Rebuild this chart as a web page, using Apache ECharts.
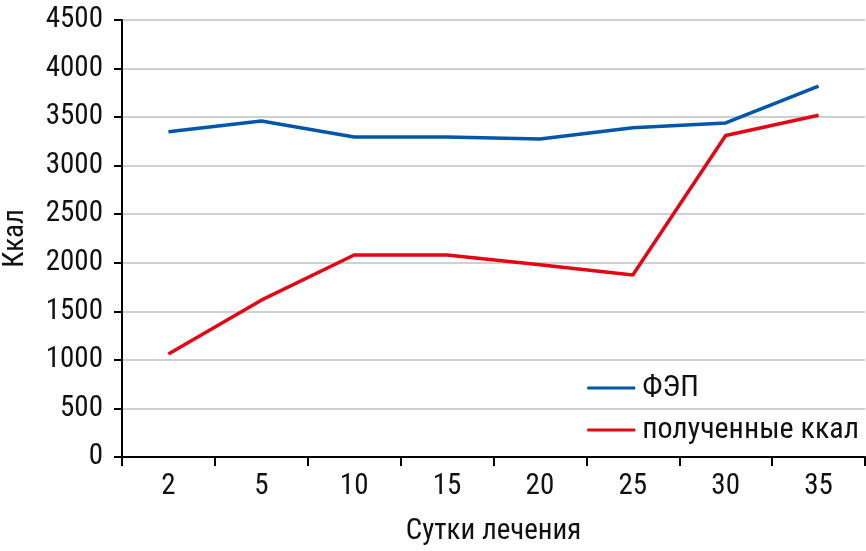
<!DOCTYPE html>
<html><head><meta charset="utf-8">
<script src="https://cdn.jsdelivr.net/npm/echarts@6/dist/echarts.min.js"></script>
<style>html,body{margin:0;padding:0;background:#fff}#c{width:866px;height:551px}</style>
</head><body><div id="c"></div>
<script>
const categories = ['2','5','10','15','20','25','30','35'];
const fepValues = [3350, 3460, 3295, 3295, 3275, 3390, 3440, 3820];
const receivedValues = [1060, 1615, 2080, 2080, 1980, 1875, 3310, 3520];
const seriesNames = ['ФЭП', 'полученные ккал'];
const FONT = '"Roboto Condensed","DejaVu Sans Condensed","Liberation Sans Narrow","Open Sans",sans-serif';
const chart = echarts.init(document.getElementById('c'));
chart.setOption({
  animation: false,
  backgroundColor: '#fff',
  grid: {left: 122, right: 1, top: 20, bottom: 94, containLabel: false, outerBoundsMode: 'none'},
  legend: {
    orient: 'vertical', right: 2, top: 368, itemGap: 12,
    itemWidth: 48, itemHeight: 3, icon: 'rect',
    textStyle: {fontFamily: FONT, fontSize: 30, color: '#111', padding: [0,0,0,2]},
    data: seriesNames
  },
  xAxis: {
    type: 'category', data: categories, boundaryGap: true,
    name: 'Сутки лечения', nameLocation: 'middle', nameGap: 60,
    nameTextStyle: {fontFamily: FONT, fontSize: 29, color: '#111'},
    axisLine: {lineStyle: {color: '#000', width: 2}},
    axisTick: {show: true, length: 9, lineStyle: {color: '#000', width: 2}, alignWithLabel: false},
    axisLabel: {fontFamily: FONT, fontSize: 29, color: '#111', margin: 15}
  },
  yAxis: {
    type: 'value', min: 0, max: 4500, interval: 500,
    name: 'Ккал', nameLocation: 'middle', nameGap: 92, nameRotate: 90,
    nameTextStyle: {fontFamily: FONT, fontSize: 29, color: '#111'},
    axisLine: {show: true, lineStyle: {color: '#000', width: 2}},
    axisTick: {show: true, length: 8, lineStyle: {color: '#000', width: 2}},
    axisLabel: {fontFamily: FONT, fontSize: 29, color: '#111', margin: 19, formatter: v => String(v)},
    splitLine: {lineStyle: {color: '#c0c0c0', width: 1.5}}
  },
  series: [
    {name: seriesNames[0], type: 'line', data: fepValues, symbol: 'none',
     lineStyle: {color: '#0057a8', width: 3.5}, itemStyle: {color: '#0057a8'}},
    {name: seriesNames[1], type: 'line', data: receivedValues, symbol: 'none',
     lineStyle: {color: '#e30613', width: 3.5}, itemStyle: {color: '#e30613'}}
  ]
});
</script></body></html>
